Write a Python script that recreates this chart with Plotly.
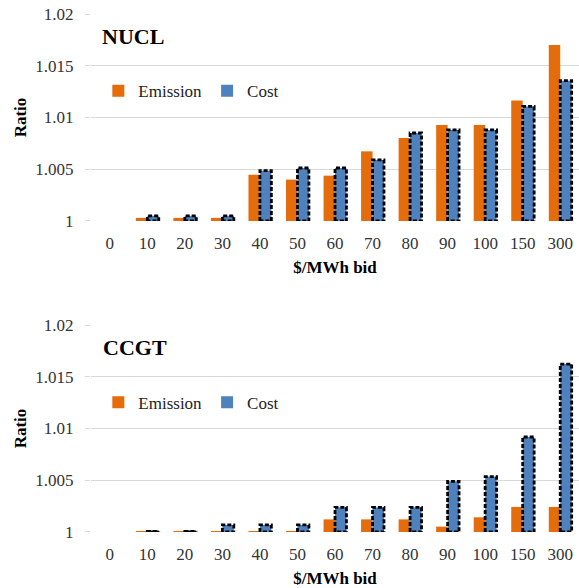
import plotly.graph_objects as go
from plotly.subplots import make_subplots

categories = ["0", "10", "20", "30", "40", "50", "60", "70", "80", "90", "100", "150", "300"]
nucl_emission = [1.0, 1.0003, 1.0003, 1.0003, 1.00447, 1.0040, 1.00438, 1.00673, 1.00802, 1.00928, 1.00928, 1.01165, 1.0170]
nucl_cost = [1.0, 1.0005, 1.0005, 1.0005, 1.00486, 1.00512, 1.00512, 1.0059, 1.0085, 1.0088, 1.0088, 1.01107, 1.01356]
ccgt_emission = [1.0, 1.00002, 1.00002, 1.00003, 1.00003, 1.00005, 1.00122, 1.00122, 1.00122, 1.00052, 1.00142, 1.00242, 1.00242]
ccgt_cost = [1.0, 1.00005, 1.00005, 1.00068, 1.00068, 1.00068, 1.00238, 1.00238, 1.00238, 1.0049, 1.00535, 1.00918, 1.01623]
ytick_vals = [1.0, 1.005, 1.01, 1.015, 1.02]
ytick_text = ["1", "1.005", "1.01", "1.015", "1.02"]

ORANGE = "#E46C0A"
BLUE = "#4F81BD"
FONT = "'Liberation Serif', 'Times New Roman', serif"
BW = 0.305
xs = list(range(len(categories)))

fig = make_subplots(rows=2, cols=1, vertical_spacing=0.2008)


def outline(vals):
    ox, oy = [], []
    for i, v in zip(xs, vals):
        if v <= 1.0:
            continue
        ox += [i, i, i + BW, i + BW, i, None]
        oy += [1.0, v, v, 1.0, 1.0, None]
    return ox, oy


panels = [(nucl_emission, nucl_cost, "legend"), (ccgt_emission, ccgt_cost, "legend2")]
for r, (em, co, lg) in enumerate(panels, start=1):
    fig.add_trace(go.Bar(x=xs, y=[v - 1 for v in em], base=1.0, width=BW, offset=-BW,
                         marker=dict(color=ORANGE, line=dict(width=0)), name="Emission",
                         legend=lg), row=r, col=1)
    fig.add_trace(go.Bar(x=xs, y=[v - 1 for v in co], base=1.0, width=BW, offset=0,
                         marker=dict(color=BLUE, line=dict(width=0)), name="Cost",
                         legend=lg), row=r, col=1)
    ox, oy = outline(co)
    fig.add_trace(go.Scatter(x=ox, y=oy, mode="lines", line=dict(color="black", width=2.8, dash="4px,2px"),
                             showlegend=False, hoverinfo="skip", cliponaxis=False), row=r, col=1)
    fig.update_xaxes(row=r, col=1, range=[-0.5, 12.5], tickvals=xs, ticktext=categories,
                     ticks="outside", ticklen=7, tickcolor="rgba(0,0,0,0)", showgrid=False,
                     zeroline=False, showline=False,
                     title=dict(text="<b>$/MWh bid</b>", font=dict(size=17, family=FONT, color="black"), standoff=8),
                     tickfont=dict(size=17, family=FONT, color="#333333"))
    fig.update_yaxes(row=r, col=1, range=[1.0, 1.02], tickvals=ytick_vals, ticktext=ytick_text,
                     showgrid=True, gridcolor="#D9D9D9", gridwidth=1, zeroline=False, showline=False,
                     ticks="outside", ticklen=5, tickcolor="#D9D9D9", ticklabelstandoff=8,
                     title=dict(text="<b>Ratio</b>", font=dict(size=17, family=FONT, color="black"), standoff=4),
                     tickfont=dict(size=17, family=FONT, color="#333333"))

fig.update_layout(
    width=579, height=588,
    margin=dict(l=91, r=0, t=14, b=56),
    plot_bgcolor="white", paper_bgcolor="white",
    barmode="overlay",
    font=dict(family=FONT, size=17, color="black"),
    legend=dict(orientation="h", x=0.015, xanchor="left", y=0.851, yanchor="middle",
                font=dict(size=17, family=FONT, color="#222222"), bgcolor="rgba(0,0,0,0)"),
    legend2=dict(orientation="h", x=0.015, xanchor="left", y=0.2496, yanchor="middle",
                 font=dict(size=17, family=FONT, color="#222222"), bgcolor="rgba(0,0,0,0)"),
    annotations=[
        dict(text="<b>NUCL</b>", xref="paper", yref="paper", x=0.018, y=0.956, xanchor="left", yanchor="middle",
             showarrow=False, font=dict(size=22, family=FONT, color="black")),
        dict(text="<b>CCGT</b>", xref="paper", yref="paper", x=0.02, y=0.356, xanchor="left", yanchor="middle",
             showarrow=False, font=dict(size=22, family=FONT, color="black")),
    ],
)

fig.write_html("out.html", config={"displayModeBar": False},
               post_script="document.body.style.margin='0px';")
